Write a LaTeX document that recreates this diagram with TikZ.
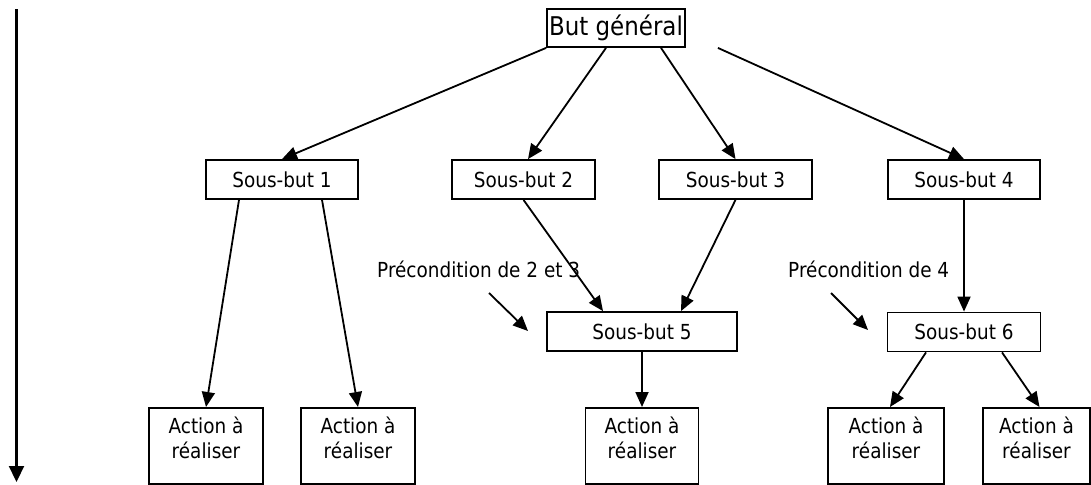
\documentclass[tikz,border=0pt]{standalone}
\usepackage{fontspec}
\setmainfont[FakeStretch=0.89]{DejaVu Sans}
\usetikzlibrary{arrows.meta,calc}
\newcommand\actbox[1]{\parbox[t][76pt][t]{#1}{\centering\vspace*{9.5pt}Action à\\réaliser}}
\begin{document}
\begin{tikzpicture}[x=1pt,y=-1pt,
  txt/.style={font=\fontsize{20.7}{24.5}\selectfont},
  box/.style={draw, line width=1.8pt, inner sep=0pt, txt},
  sub/.style={box, minimum height=39pt},
  act/.style={box, anchor=north},
  arr/.style={line width=1.8pt, -{Triangle[length=15pt,width=13pt]}},
  lbl/.style={inner sep=0pt, anchor=base west, txt}]
\useasboundingbox (0,0) rectangle (1091,484);

% nodes
\node[box, minimum width=138pt, minimum height=38pt, font=\fontsize{25.8}{30}\selectfont] (bg) at (616,28) {But général};
\node[sub, minimum width=152pt] (sb1) at (282,179.5) {Sous-but 1};
\node[sub, minimum width=143pt] (sb2) at (523.5,179.5) {Sous-but 2};
\node[sub, minimum width=153pt] (sb3) at (735.5,179.5) {Sous-but 3};
\node[sub, minimum width=152pt] (sb4) at (964,179.5) {Sous-but 4};
\node[sub, minimum width=190pt] (sb5) at (642,331.5) {Sous-but 5};
\node[sub, minimum width=153pt] (sb6) at (964,332) {Sous-but 6};

\node[act] (a1) at (206,407) {\actbox{114pt}};
\node[act] (a2) at (358,407) {\actbox{114pt}};
\node[act] (a3) at (642,407) {\actbox{113pt}};
\node[act] (a4) at (886,407) {\actbox{116pt}};
\node[act] (a5) at (1036.5,407) {\actbox{107pt}};

\node[lbl] (p23) at (377,277) {Précondition de 2 et 3};
\node[lbl] (p4) at (788,277) {Précondition de 4};

% free ends
\coordinate (t0) at (16.5,9.5);
\coordinate (t1) at (16.5,482);
\coordinate (q1s) at (489,293);
\coordinate (q1e) at (528,331);
\coordinate (q2s) at (831,293);
\coordinate (q2e) at (868,330);

% connectors
\draw[arr] (bg.south west) -- (sb1.north);
\draw[arr] ([xshift=-10pt]bg.south) -- ([xshift=4.5pt]sb2.north);
\draw[arr] ([xshift=45pt]bg.south) -- (sb3.north);
\draw[arr] ([xshift=32pt]bg.south east) -- (sb4.north);
\draw[arr] ([xshift=-43pt]sb1.south) -- (a1.north);
\draw[arr] ([xshift=40pt]sb1.south) -- (a2.north);
\draw[arr] (sb2.south) -- ([xshift=-39pt]sb5.north);
\draw[arr] (sb3.south) -- ([xshift=39pt]sb5.north);
\draw[arr] (sb4.south) -- (sb6.north);
\draw[arr] (sb5.south) -- (a3.north);
\draw[arr] ([xshift=-38pt]sb6.south) -- ([xshift=4pt]a4.north);
\draw[arr] ([xshift=38pt]sb6.south) -- ([xshift=3pt]a5.north);
\draw[arr] (q1s) -- (q1e);
\draw[arr] (q2s) -- (q2e);
\draw[line width=2.2pt, -{Triangle[length=16pt,width=15pt]}] (t0) -- (t1);
\end{tikzpicture}
\end{document}
